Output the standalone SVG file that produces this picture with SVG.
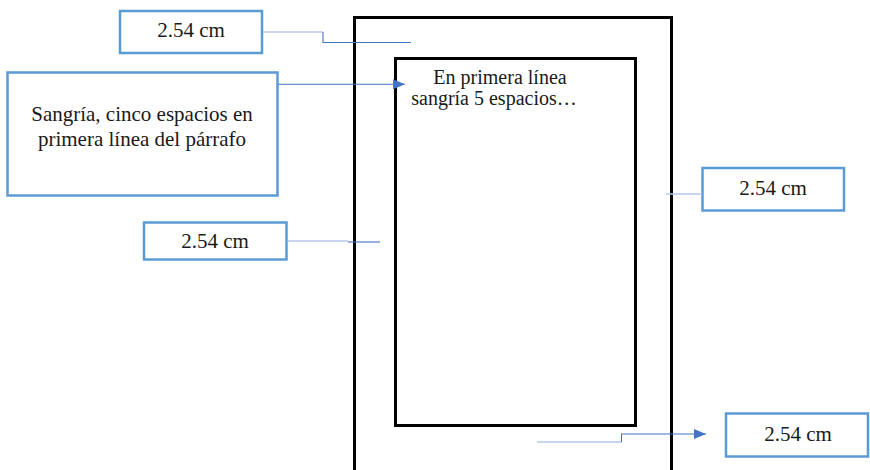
<svg xmlns="http://www.w3.org/2000/svg" width="870" height="470" viewBox="0 0 870 470">
<defs>
<style>
.page{fill:#fff;stroke:#000;stroke-width:3}
.box{fill:#fff;stroke:#5B9BD5;stroke-width:2.5}
.t{font-family:'Liberation Serif','DejaVu Serif',serif;font-size:21px;fill:#1a1a1a;text-anchor:middle}
.s{font-size:20px}
.cl{fill:none;stroke:#B4C7E7;stroke-width:1.3}
.cd{fill:none;stroke:#4472C4;stroke-width:1.1}
</style>
<marker id="arr" markerWidth="12" markerHeight="10" refX="12" refY="5" orient="auto" markerUnits="userSpaceOnUse">
<path d="M0,0 L12,5 L0,10 Z" fill="#4472C4"/>
</marker>
</defs>
<rect width="870" height="470" fill="#fff"/>
<g id="pagina">
<rect class="page" x="354.5" y="17.5" width="317" height="460"/>
</g>
<g id="area-texto">
<rect class="page" x="395.5" y="58.5" width="240" height="367"/>
<text class="t s" x="500" y="84">En primera línea</text>
<text class="t s" x="494" y="105">sangría 5 espacios…</text>
</g>
<g id="margen-superior">
<rect class="box" x="120" y="11" width="142" height="42"/>
<text class="t" x="191" y="37">2.54 cm</text>
</g>
<g id="sangria">
<rect class="box" x="7.5" y="72.5" width="270" height="123"/>
<text class="t" x="142" y="120.5">Sangría, cinco espacios en</text>
<text class="t" x="142" y="146">primera línea del párrafo</text>
</g>
<g id="margen-izquierdo">
<rect class="box" x="144" y="222.5" width="142.5" height="37"/>
<text class="t" x="215" y="248">2.54 cm</text>
</g>
<g id="margen-derecho">
<rect class="box" x="702.5" y="168" width="141.5" height="42.5"/>
<text class="t" x="773" y="195">2.54 cm</text>
</g>
<g id="margen-inferior">
<rect class="box" x="726" y="413.5" width="142" height="43"/>
<text class="t" x="798" y="441">2.54 cm</text>
</g>
<g id="conectores">
<path class="cl" d="M263,32 H323"/>
<path class="cd" d="M323,32 V42.5 H411"/>
<path class="cd" d="M278,84.3 H405" marker-end="url(#arr)"/>
<path class="cl" d="M287.5,241 H348"/>
<path class="cd" d="M348,242 H380"/>
<path class="cl" d="M666,194 H702"/>
<path class="cl" d="M537,442 H621.5"/>
<path class="cd" d="M621.5,442 V434 H706" marker-end="url(#arr)"/>
</g>
</svg>
